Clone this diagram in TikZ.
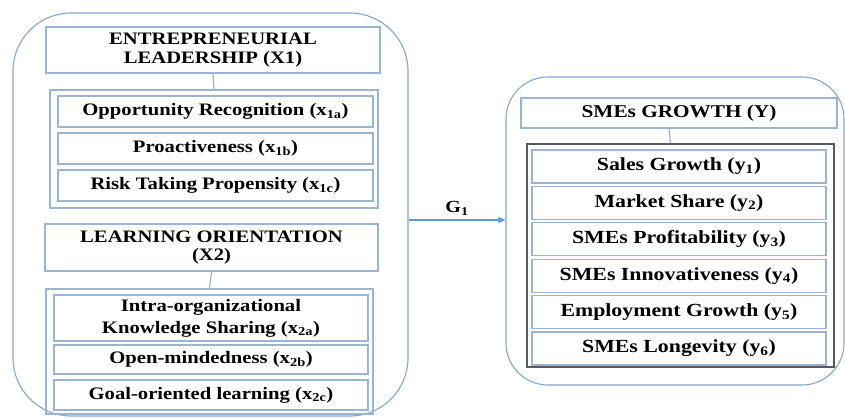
\documentclass[tikz,border=0pt]{standalone}
\usepackage{fontspec}
\newfontfamily\bxfont[FakeStretch=1.18]{Liberation Serif}
\usetikzlibrary{arrows.meta}
\definecolor{boxblue}{HTML}{9AB4D3}
\definecolor{frameblue}{HTML}{86A6C8}
\definecolor{arrowblue}{HTML}{5B9BD5}
\definecolor{darkframe}{HTML}{5A5A5A}
\tikzset{
  container/.style={draw=frameblue, line width=1.1pt, rounded corners=#1, inner sep=0pt},
  titlebox/.style={draw=boxblue, line width=1.2pt, align=center, inner sep=0pt,
    font=\bxfont\bfseries\fontsize{17.5}{18.5}\selectfont},
  groupbox/.style={draw=boxblue, line width=1.2pt, inner sep=0pt},
  darkgroup/.style={draw=darkframe, line width=1.6pt, inner sep=0pt},
  itembox/.style={draw=boxblue, line width=1.2pt, align=center, inner sep=0pt,
    font=\bxfont\bfseries\fontsize{17.5}{21}\selectfont},
  ritembox/.style={itembox, font=\bxfont\bfseries\fontsize{18.5}{21}\selectfont},
  link/.style={draw=boxblue, line width=1.2pt},
  flow/.style={draw=arrowblue, line width=1.2pt, -{Triangle[length=7pt,width=6pt]}}
}
\begin{document}
\begin{tikzpicture}[x=1pt,y=-1pt]
\useasboundingbox (0,0) rectangle (845,419);

% outer frames
\node[container=58pt, minimum width=395pt, minimum height=403pt] (left) at (210.5,214.5) {};
\node[container=42pt, minimum width=338pt, minimum height=308pt] (right) at (675,231) {};

% entrepreneurial leadership
\node[titlebox, minimum width=334pt, minimum height=46pt] (el) at (213,50)
  {ENTREPRENEURIAL\\LEADERSHIP (X1)};
\node[groupbox, minimum width=328pt, minimum height=118pt] (elg) at (214,149) {};
\node[itembox, minimum width=315pt, minimum height=31pt] (x1a) at (215.5,111.5)
  {Opportunity Recognition (x\textsubscript{1a})};
\node[itembox, minimum width=315pt, minimum height=31pt] (x1b) at (215.5,148.5)
  {Proactiveness (x\textsubscript{1b})};
\node[itembox, minimum width=315pt, minimum height=31pt] (x1c) at (215.5,185.5)
  {Risk Taking Propensity (x\textsubscript{1c})};
\draw[link] (el.south) -- (elg.north);

% learning orientation
\node[titlebox, minimum width=333pt, minimum height=47pt] (lo) at (211.5,247.5)
  {LEARNING ORIENTATION\\(X2)};
\node[groupbox, minimum width=327pt, minimum height=125pt] (log) at (209.5,351.5) {};
\node[itembox, minimum width=314pt, minimum height=46pt, font=\bxfont\bfseries\fontsize{17.5}{22}\selectfont] (x2a) at (211,318)
  {Intra-organizational\\Knowledge Sharing (x\textsubscript{2a})};
\node[itembox, minimum width=314pt, minimum height=29pt] (x2b) at (211,359.5)
  {Open-mindedness (x\textsubscript{2b})};
\node[itembox, minimum width=314pt, minimum height=30pt] (x2c) at (211,395)
  {Goal-oriented learning (x\textsubscript{2c})};
\draw[link] (lo.south) -- (log.north);

% SMEs growth
\node[titlebox, minimum width=316pt, minimum height=30pt, font=\bxfont\bfseries\fontsize{18}{20}\selectfont] (sg) at (679,113)
  {SMEs GROWTH (Y)};
\node[darkgroup, minimum width=307pt, minimum height=223pt] (sgg) at (680.5,255.5) {};
\node[ritembox, minimum width=294pt, minimum height=33pt] (y1) at (679,166.5)
  {Sales Growth (y\textsubscript{1})};
\node[ritembox, minimum width=294pt, minimum height=33pt] (y2) at (679,202.9)
  {Market Share (y\textsubscript{2})};
\node[ritembox, minimum width=294pt, minimum height=33pt] (y3) at (679,239.3)
  {SMEs Profitability (y\textsubscript{3})};
\node[ritembox, minimum width=294pt, minimum height=33pt] (y4) at (679,275.7)
  {SMEs Innovativeness (y\textsubscript{4})};
\node[ritembox, minimum width=294pt, minimum height=33pt] (y5) at (679,312.1)
  {Employment Growth (y\textsubscript{5})};
\node[ritembox, minimum width=294pt, minimum height=33pt] (y6) at (679,348.5)
  {SMEs Longevity (y\textsubscript{6})};
\draw[link] ([xshift=-10pt]sg.south) -- ([xshift=-10pt]sgg.north);

% effect path
\coordinate (pathy) at (0,220);
\draw[flow] (left.east |- pathy) -- node[above=1pt, font=\bxfont\bfseries\fontsize{17}{18}\selectfont] (g1) {G\textsubscript{1}} (right.west |- pathy);
\end{tikzpicture}
\end{document}
